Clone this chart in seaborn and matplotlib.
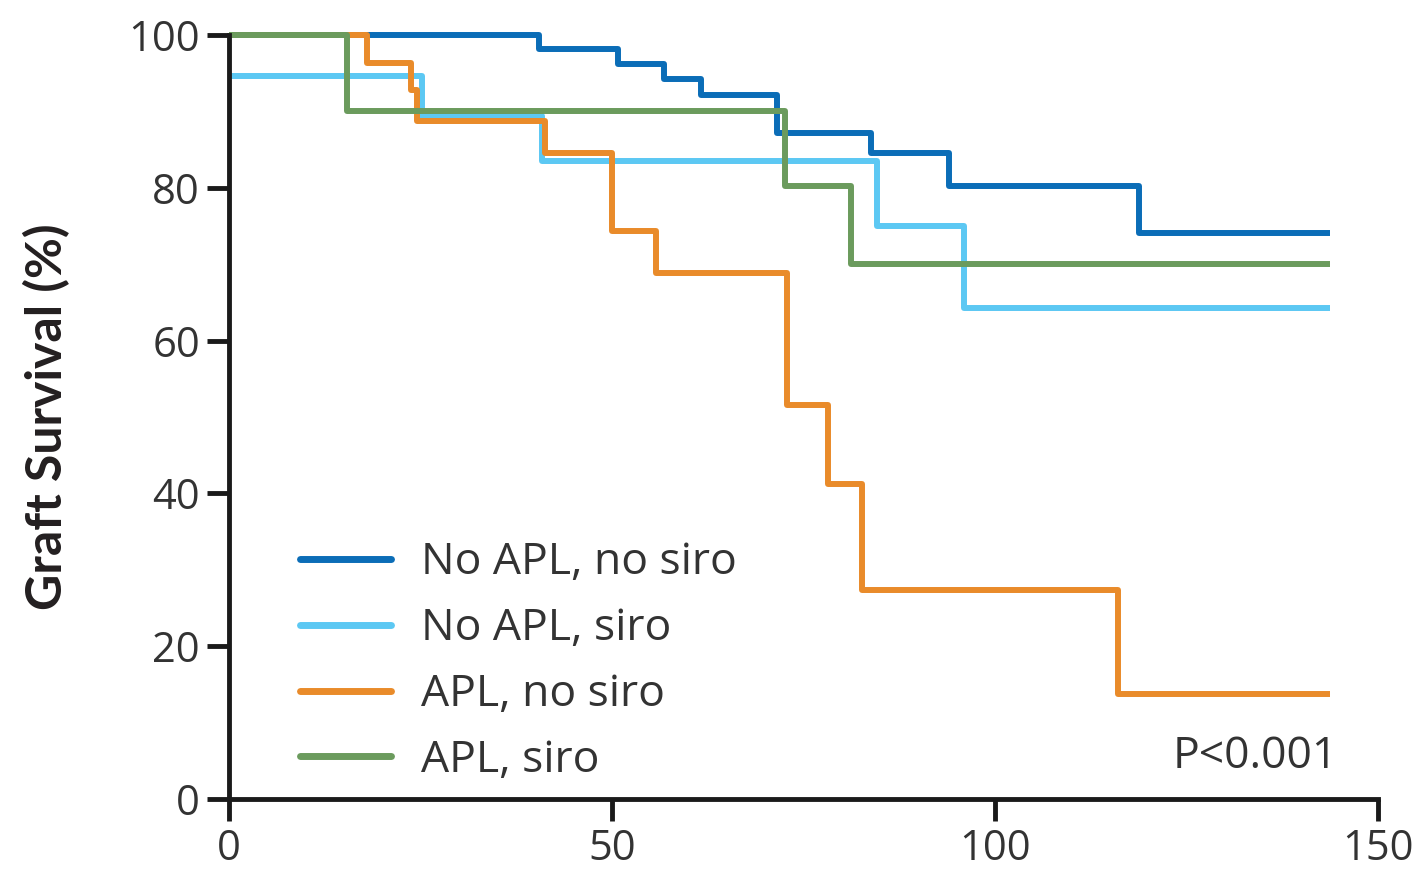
import pandas as pd
import matplotlib.pyplot as plt
import seaborn as sns

# Kaplan-Meier steps (months, % surviving)
groups = ['No APL, no siro', 'No APL, siro', 'APL, no siro', 'APL, siro']
colors = ['#0b6db7', '#5cc8f3', '#e98b2a', '#6b9b5d']

t_noapl_nosiro = [0, 40.5, 50.8, 56.8, 61.6, 71.6, 83.8, 94.0, 118.8, 143.7]
s_noapl_nosiro = [100, 98.2, 96.2, 94.2, 92.1, 87.2, 84.5, 80.2, 74.1, 74.1]

t_noapl_siro = [0, 25.2, 40.8, 84.6, 96.0, 143.7]
s_noapl_siro = [94.6, 89.4, 83.5, 75.0, 64.3, 64.3]

t_apl_nosiro = [0, 18.0, 23.8, 24.5, 41.3, 50.0, 55.7, 72.8, 78.2, 82.6, 116.0, 143.7]
s_apl_nosiro = [100, 96.4, 92.8, 88.7, 84.5, 74.3, 68.8, 51.6, 41.2, 27.4, 13.7, 13.7]

t_apl_siro = [0, 15.4, 72.6, 81.2, 143.7]
s_apl_siro = [100, 90.0, 80.2, 70.0, 70.0]

times = [t_noapl_nosiro, t_noapl_siro, t_apl_nosiro, t_apl_siro]
survs = [s_noapl_nosiro, s_noapl_siro, s_apl_nosiro, s_apl_siro]

rows = []
for g, t, s in zip(groups, times, survs):
    for ti, si in zip(t, s):
        rows.append({'group': g, 'time': ti, 'surv': si})
df = pd.DataFrame(rows)

sns.set_style('white')
plt.rcParams['font.family'] = ['Open Sans', 'DejaVu Sans']

fig = plt.figure(figsize=(14.2, 8.69), dpi=100)
ax = fig.add_axes([0.1613, 0.0806, 0.8091, 0.8791])

sns.lineplot(data=df, x='time', y='surv', hue='group', hue_order=groups,
             palette=dict(zip(groups, colors)), drawstyle='steps-post',
             estimator=None, sort=False, linewidth=4.3, ax=ax, legend=False)
for line in ax.lines:
    line.set_clip_on(False)
    line.set_solid_capstyle('butt')

ax.set_xlim(0, 150)
ax.set_ylim(0, 100)
ax.set_xticks([0, 50, 100, 150])
ax.set_yticks([0, 20, 40, 60, 80, 100])
ax.set_xlabel('')
ax.set_ylabel('Graft Survival (%)', fontsize=36, fontweight='bold',
              family=['Lato', 'DejaVu Sans'], color='#231f20')
ax.yaxis.set_label_coords(-0.138, 0.5)
sns.despine(ax=ax)
for sp in ['left', 'bottom']:
    ax.spines[sp].set_linewidth(3.5)
    ax.spines[sp].set_color('#1a1a1a')
ax.tick_params(axis='y', direction='out', length=16, width=3.5, labelsize=30,
               pad=5, colors='#1a1a1a', labelcolor='#333333', left=True)
ax.tick_params(axis='x', direction='out', length=16, width=3.5, labelsize=30,
               pad=5, colors='#1a1a1a', labelcolor='#333333', bottom=True)

handles = [plt.Line2D([], [], color=c, linewidth=5) for c in colors]
ax.legend(handles, groups, loc='lower left', bbox_to_anchor=(0.062, 0.021),
          frameon=False, fontsize=32, handlelength=2.03, handletextpad=0.68,
          labelspacing=0.48, borderpad=0, borderaxespad=0,
          labelcolor='#333333')

ax.text(0.965, 0.055, 'P<0.001', transform=ax.transAxes, ha='right', va='center',
        fontsize=32, color='#333333')

fig.savefig('out.png', dpi=100)
